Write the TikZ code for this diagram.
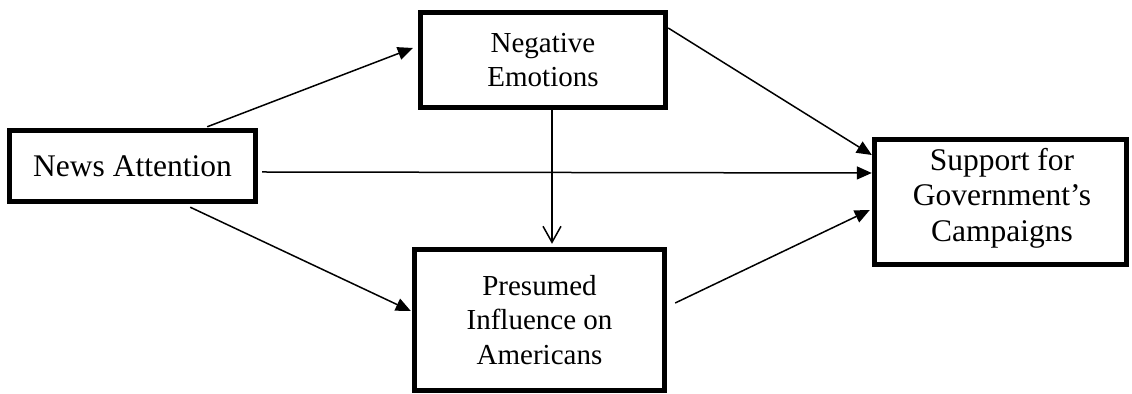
\documentclass[tikz,border=0pt]{standalone}
\usepackage{fontspec}
\setmainfont{Liberation Serif}
\usetikzlibrary{arrows.meta,calc}
\begin{document}
\begin{tikzpicture}[x=0.5pt,y=-0.5pt,
  boxnode/.style={draw,line width=2.4pt,rectangle,align=center,inner sep=0pt},
  smalltext/.style={font=\fontsize{14.5pt}{17.3pt}\selectfont},
  bigtext/.style={font=\fontsize{15.75pt}{17.75pt}\selectfont},
  conn/.style={line width=0.75pt,-{Triangle[length=7.5pt,width=6.5pt]}},
  openconn/.style={line width=0.75pt,-{Straight Barb[length=8pt,width=9pt,line width=0.75pt]}}]
\useasboundingbox (0,0) rectangle (1132,394);
\node[boxnode,bigtext,minimum width=123.3pt,minimum height=35.8pt] (na) at (132.5,166) {News Attention};
\node[boxnode,smalltext,minimum width=122.8pt,minimum height=47.8pt] (ne) at (543,60) {Negative\\Emotions};
\node[boxnode,smalltext,minimum width=125.3pt,minimum height=70.8pt] (pi) at (539.5,320) {Presumed\\Influence on\\Americans};
\node[boxnode,minimum width=126.3pt,minimum height=62.8pt] (sg) at (1000.5,202) {};
\node[bigtext,align=center] (sgt) at (1002,198) {Support for\\Government’s\\Campaigns};
\draw[conn] ($(na.north east)+(-51,-1)$) -- ($(ne.west)+(-5,-12)$);
\draw[conn] ($(ne.east)+(0,-32)$) -- ($(sg.west)+(0,-47)$);
\draw[conn] ($(na.east)+(4,6)$) -- ($(sg.west)+(0,-29)$);
\draw[conn] ($(na.south east)+(-68,3)$) -- ($(pi.west)+(-1,-9)$);
\draw[conn] ($(pi.east)+(8,-17)$) -- ($(sg.west)+(-2,8)$);
\draw[openconn] ($(ne.south)+(9,0)$) -- ($(pi.north)+(12.5,-3)$);
\end{tikzpicture}
\end{document}
